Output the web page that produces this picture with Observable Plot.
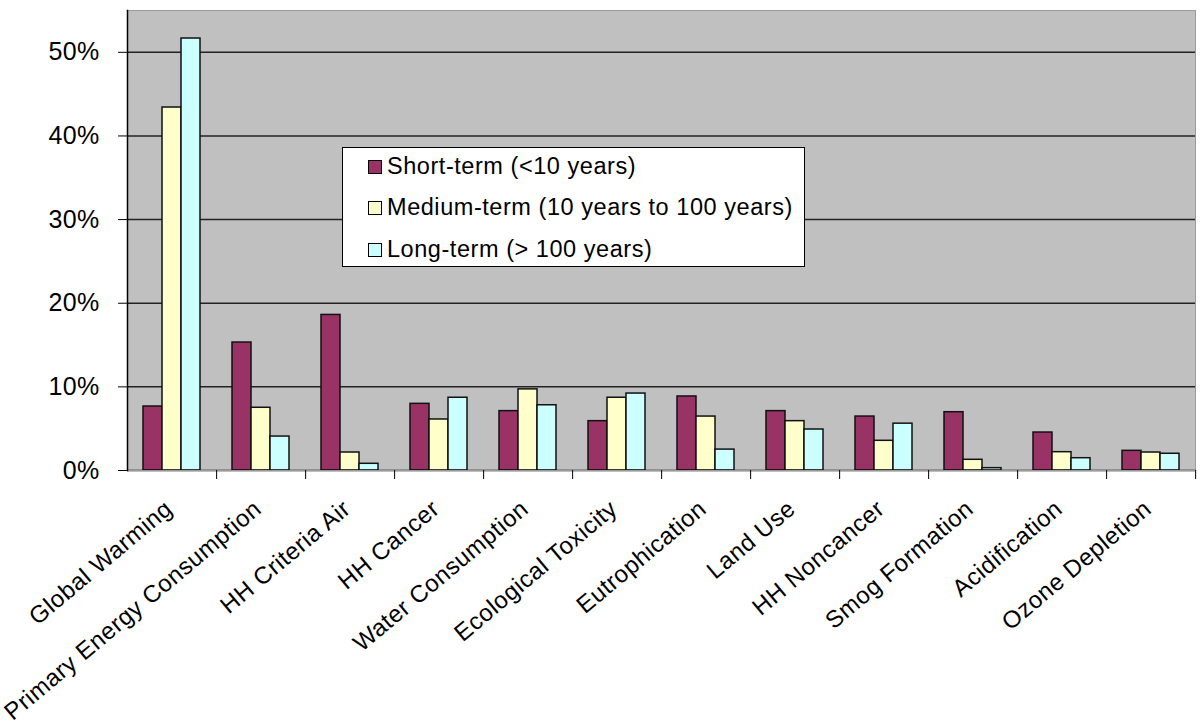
<!DOCTYPE html>
<html>
<head>
<meta charset="utf-8">
<script src="https://cdn.jsdelivr.net/npm/d3@7"></script>
<script src="https://cdn.jsdelivr.net/npm/@observablehq/plot@0.6"></script>
<style>
  html, body { margin: 0; padding: 0; background: #fff; }
  #wrap { position: relative; width: 1200px; height: 726px; font-family: "Liberation Sans", Arial, sans-serif; }
  #wrap svg { position: absolute; left: 0; top: 0; }
  #wrap svg text { letter-spacing: 0.3px; }
  #wrap svg g[aria-label="fx-axis tick label"] text { letter-spacing: 0.5px; }
  #legend { position: absolute; left: 342px; top: 147px; width: 463px; height: 120px; background: #fff; border: 1.5px solid #000; box-sizing: border-box; }
  .item { position: absolute; left: 25px; display: flex; align-items: center; font-size: 23.5px; letter-spacing: 0.55px; color: #000; white-space: nowrap; }
  .sw { width: 14px; height: 14px; border: 1.5px solid #000; margin-right: 5px; box-sizing: border-box; }
</style>
</head>
<body>
<div id="wrap"><div id="legend"></div></div>
<script>
const categories = ["Global Warming", "Primary Energy Consumption", "HH Criteria Air", "HH Cancer", "Water Consumption", "Ecological Toxicity", "Eutrophication", "Land Use", "HH Noncancer", "Smog Formation", "Acidification", "Ozone Depletion"];
const series = ["Short-term (<10 years)", "Medium-term (10 years to 100 years)", "Long-term (> 100 years)"];
const shortTerm  = [0.0765, 0.153, 0.186, 0.0797, 0.071, 0.059, 0.0885, 0.071, 0.0645, 0.0697, 0.0454, 0.0235];
const mediumTerm = [0.434, 0.075, 0.0215, 0.061, 0.097, 0.087, 0.0645, 0.059, 0.0355, 0.0128, 0.0219, 0.0215];
const longTerm   = [0.5165, 0.0406, 0.008, 0.087, 0.078, 0.092, 0.025, 0.049, 0.056, 0.0028, 0.0147, 0.020];
const yTicks = [0, 0.1, 0.2, 0.3, 0.4, 0.5];
const colors = ["#993366", "#FFFFCC", "#CCFFFF"];

const seriesValues = [shortTerm, mediumTerm, longTerm];
const table = [];
categories.forEach((c, i) => {
  series.forEach((s, j) => table.push({category: c, series: s, value: seriesValues[j][i]}));
});

const W = 1200, H = 726, mL = 125, mR = 4, mT = 10, mB = 256;
const step = (W - mL - mR) / categories.length;

const chart = Plot.plot({
  width: W, height: H,
  marginTop: mT, marginRight: mR, marginBottom: mB, marginLeft: mL,
  style: {fontFamily: "'Liberation Sans', Arial, sans-serif", color: "#000", background: "transparent"},
  fx: {domain: categories, padding: 0, label: null},
  x: {domain: series, axis: null, paddingInner: 0, paddingOuter: 0.75},
  y: {domain: [0, 0.55], label: null},
  color: {domain: series, range: colors},
  marks: [
    Plot.frame({facet: "super", fill: "#C0C0C0", stroke: "none"}),
    Plot.ruleY(yTicks.filter(d => d > 0), {stroke: "#222", strokeWidth: 1.5}),
    Plot.barY(table, {fx: "category", x: "series", y: "value", fill: "series", stroke: "#111", strokeWidth: 1.5}),
    Plot.ruleY([0], {stroke: "#000", strokeWidth: 1.5}),
    Plot.frame({facet: "super", stroke: "#9a9a9a"}),
    Plot.frame({facet: "super", anchor: "left", stroke: "#000", strokeWidth: 1.5}),
    Plot.axisY({ticks: yTicks, tickFormat: d3.format(".0%"), tickSize: 9, tickPadding: 19, fontSize: 25, label: null, stroke: "#000"}),
    Plot.axisFx({anchor: "bottom", tickSize: 0, tickRotate: -40, tickPadding: 35, dx: -3, fontSize: 24, label: null}),
    Plot.axisFx({anchor: "bottom", tickSize: 9, text: null, dx: step / 2, label: null, stroke: "#000"})
  ]
});
document.getElementById("wrap").prepend(chart);

const legend = document.getElementById("legend");
const rowY = [20, 61, 103];
series.forEach((s, i) => {
  const it = document.createElement("div");
  it.className = "item";
  it.style.top = (rowY[i] - 15) + "px";
  const sw = document.createElement("span");
  sw.className = "sw";
  sw.style.background = colors[i];
  const tx = document.createElement("span");
  tx.textContent = s;
  it.appendChild(sw); it.appendChild(tx);
  legend.appendChild(it);
});
</script>
</body>
</html>
